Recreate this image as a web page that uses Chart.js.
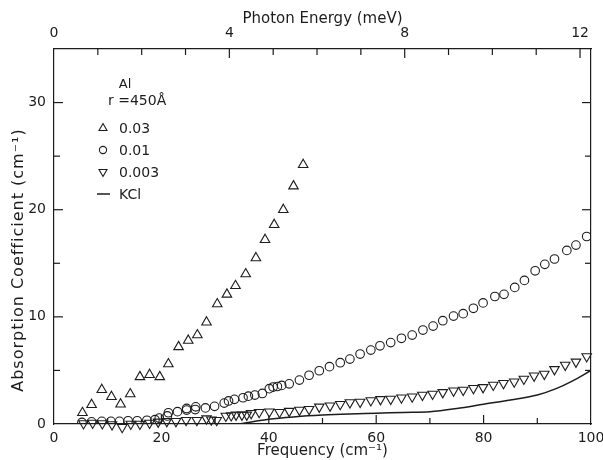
<!DOCTYPE html>
<html>
<head>
<meta charset="utf-8">
<script src="https://cdn.jsdelivr.net/npm/chart.js@4.4.1/dist/chart.umd.min.js"></script>
<style>
  html, body { margin: 0; background: #fff; }
</style>
</head>
<body>
<canvas id="chart" width="603" height="460"></canvas>
<script>
// Al particles, r = 450 Å, three filling fractions, plus the KCl host
const freq003a = [5.3, 7.0, 8.9, 10.7, 12.4, 14.2, 16.0, 17.8, 19.7, 21.3, 23.2, 25.0, 26.7, 28.4,
  30.4, 32.2, 33.8, 35.7, 37.6, 39.3, 41.0, 42.7, 44.6, 46.4];
const alpha003a = [1.05, 1.8, 3.2, 2.55, 1.85, 2.8, 4.4, 4.6, 4.4, 5.6, 7.2, 7.8, 8.3, 9.5,
  11.2, 12.1, 12.9, 14.0, 15.5, 17.2, 18.6, 20.0, 22.2, 24.2];

const freq001 = [5.2, 7.0, 8.9, 10.6, 12.2, 13.8, 15.5, 17.3, 18.8, 19.6, 21.1, 21.3, 23.0, 24.7,
  24.7, 26.3, 26.4, 28.2, 29.9, 31.7, 32.5, 33.6, 35.2, 36.2, 37.4, 38.8, 40.1, 40.8, 41.6, 42.4,
  43.8, 45.7, 47.5, 49.4, 51.3, 53.3, 55.1, 57.0, 59.0, 60.7, 62.7, 64.7, 66.7, 68.7, 70.6, 72.4,
  74.4, 76.2, 78.1, 79.9, 82.1, 83.8, 85.8, 87.6, 89.6, 91.4, 93.2, 95.5, 97.2, 99.2];
const alpha001 = [0.15, 0.2, 0.25, 0.25, 0.25, 0.3, 0.3, 0.35, 0.4, 0.55, 0.75, 1.05, 1.15, 1.3,
  1.45, 1.35, 1.6, 1.5, 1.65, 1.95, 2.15, 2.3, 2.45, 2.6, 2.7, 2.85, 3.3, 3.45, 3.5, 3.6,
  3.75, 4.1, 4.55, 4.97, 5.35, 5.72, 6.06, 6.53, 6.9, 7.3, 7.6, 8.0, 8.3, 8.77, 9.14, 9.64,
  10.07, 10.3, 10.8, 11.3, 11.9, 12.1, 12.75, 13.4, 14.3, 14.9, 15.4, 16.2, 16.7, 17.5];

const freq0003 = [5.5, 7.2, 9.0, 10.8, 12.7, 14.3, 16.0, 17.8, 19.4, 21.0, 22.7, 24.6, 26.6, 28.4,
  29.3, 30.3, 32.0, 33.0, 33.9, 35.0, 35.9, 36.7, 38.2, 40.1, 42.0, 43.8, 45.7, 47.5, 49.4, 51.4,
  53.3, 55.1, 57.0, 59.0, 60.8, 62.7, 64.7, 66.7, 68.6, 70.5, 72.4, 74.4, 76.2, 78.1, 79.9, 81.8,
  83.7, 85.7, 87.5, 89.4, 91.3, 93.2, 95.2, 97.2, 99.2];
const alpha0003 = [0.05, 0.1, 0.05, -0.05, -0.3, 0.0, 0.0, 0.1, 0.2, 0.25, 0.25, 0.35, 0.35, 0.5,
  0.4, 0.35, 0.75, 0.8, 0.85, 0.85, 0.85, 1.0, 1.1, 1.15, 1.1, 1.2, 1.3, 1.37, 1.6, 1.7,
  1.85, 2.0, 2.05, 2.2, 2.3, 2.33, 2.45, 2.55, 2.7, 2.8, 2.95, 3.1, 3.17, 3.33, 3.42, 3.64,
  3.8, 3.95, 4.2, 4.5, 4.66, 5.1, 5.5, 5.8, 6.3];

const freqKCl = [34.5, 37, 40, 45, 50, 55, 60, 65, 70, 75, 80, 85, 90, 93.5, 96.5, 100];
const alphaKCl = [0, 0.2, 0.45, 0.68, 0.83, 0.93, 1.0, 1.08, 1.15, 1.45, 1.85, 2.25, 2.7, 3.3, 4.0, 5.0];

const legendLabels = ["0.03", "0.01", "0.003", "KCl"];

const INK = "#1c1c1c";
const FONT = "'DejaVu Sans', sans-serif";
Chart.defaults.font.family = FONT;
Chart.defaults.color = INK;

const pts = (xs, ys) => xs.map((x, i) => ({ x, y: ys[i] }));

// ticks point inward on all four sides of the box
const innerTicks = {
  id: "innerTicks",
  afterDraw(chart) {
    const { ctx, chartArea: a, scales } = chart;
    ctx.save();
    ctx.strokeStyle = INK;
    ctx.lineWidth = 1.2;
    const sides = { x: "bottom", xTop: "top", y: "left", yRight: "right" };
    for (const id in sides) {
      const s = scales[id];
      s.ticks.forEach(t => {
        if (t.value <= s.min || t.value >= s.max) return;
        const p = s.getPixelForValue(t.value);
        const len = t.label !== "" ? 9 : 6;
        ctx.beginPath();
        if (sides[id] === "bottom") { ctx.moveTo(p, a.bottom); ctx.lineTo(p, a.bottom - len); }
        if (sides[id] === "top") { ctx.moveTo(p, a.top); ctx.lineTo(p, a.top + len); }
        if (sides[id] === "left") { ctx.moveTo(a.left, p); ctx.lineTo(a.left + len, p); }
        if (sides[id] === "right") { ctx.moveTo(a.right, p); ctx.lineTo(a.right - len, p); }
        ctx.stroke();
      });
    }
    ctx.restore();
  }
};

// y title and the in-plot key
const annotations = {
  id: "annotations",
  afterDraw(chart) {
    const { ctx } = chart;
    ctx.save();
    ctx.fillStyle = INK;
    ctx.strokeStyle = INK;
    ctx.textBaseline = "middle";

    ctx.save();
    ctx.translate(19, 260);
    ctx.rotate(-Math.PI / 2);
    ctx.textAlign = "center";
    ctx.font = "16px " + FONT;
    ctx.letterSpacing = "1px";
    ctx.fillText("Absorption Coefficient (cm\u207B\u00B9)", 0, 0);
    ctx.restore();

    ctx.font = "13px " + FONT;
    ctx.textAlign = "center";
    ctx.fillText("Al", 125, 85);
    ctx.textAlign = "left";
    ctx.font = "14px " + FONT;
    ctx.fillText("r =450\u00C5", 108, 101);

    const mx = 103, rows = [128, 150, 172, 194];
    ctx.lineWidth = 1.1;
    // up triangle
    ctx.beginPath();
    ctx.moveTo(mx, rows[0] - 4.5); ctx.lineTo(mx + 4, rows[0] + 2.5); ctx.lineTo(mx - 4, rows[0] + 2.5);
    ctx.closePath(); ctx.stroke();
    // circle
    ctx.beginPath(); ctx.arc(mx, rows[1], 3.6, 0, Math.PI * 2); ctx.stroke();
    // down triangle
    ctx.beginPath();
    ctx.moveTo(mx, rows[2] + 4.5); ctx.lineTo(mx + 4, rows[2] - 2.5); ctx.lineTo(mx - 4, rows[2] - 2.5);
    ctx.closePath(); ctx.stroke();
    // line
    ctx.lineWidth = 1.5;
    ctx.beginPath(); ctx.moveTo(97, rows[3]); ctx.lineTo(110, rows[3]); ctx.stroke();

    legendLabels.forEach((txt, i) => ctx.fillText(txt, 119, rows[i] + 1));
    ctx.restore();
  }
};

const marker = {
  showLine: false,
  borderColor: INK,
  backgroundColor: "rgba(0,0,0,0)",
  pointBorderColor: INK,
  pointBackgroundColor: "rgba(0,0,0,0)",
  pointBorderWidth: 1.1
};

const noGrid = { display: false, drawTicks: false };
const box = { display: true, color: INK, width: 1.2 };

new Chart(document.getElementById("chart"), {
  type: "scatter",
  data: {
    datasets: [
      { ...marker, label: legendLabels[0], data: pts(freq003a, alpha003a), pointStyle: "triangle", pointRadius: 5.5 },
      { ...marker, label: legendLabels[1], data: pts(freq001, alpha001), pointStyle: "circle", pointRadius: 4.3 },
      { ...marker, label: legendLabels[2], data: pts(freq0003, alpha0003), pointStyle: "triangle",
        pointRotation: 180, pointRadius: 5.5, clip: false },
      { label: legendLabels[3], data: pts(freqKCl, alphaKCl), showLine: true, pointRadius: 0,
        borderColor: INK, borderWidth: 1.5, cubicInterpolationMode: "monotone" }
    ]
  },
  options: {
    responsive: false,
    animation: false,
    events: [],
    plugins: { legend: { display: false }, tooltip: { enabled: false } },
    scales: {
      x: {
        type: "linear", position: "bottom", min: 0, max: 100,
        grid: noGrid, border: box,
        ticks: { stepSize: 10, autoSkip: false, maxRotation: 0, padding: 6, font: { size: 14 },
          callback: v => (v % 20 === 0 ? String(v) : "") },
        title: { display: true, text: "Frequency (cm\u207B\u00B9)", font: { size: 15 }, padding: 0 },
        afterFit(s) { s.height = 36; s.paddingLeft = 0; s.paddingRight = 0; }
      },
      xTop: {
        type: "linear", position: "top", axis: "x", min: 0, max: 12.25,
        grid: noGrid, border: box,
        ticks: { stepSize: 1, includeBounds: false, autoSkip: false, maxRotation: 0, padding: 7,
          font: { size: 14 }, callback: v => (v % 4 === 0 ? String(v) : "") },
        title: { display: true, text: "Photon Energy (meV)", font: { size: 15 }, padding: { top: 10, bottom: 0 } },
        afterFit(s) { s.height = 49; s.paddingLeft = 0; s.paddingRight = 0; }
      },
      y: {
        type: "linear", position: "left", min: 0, max: 35,
        grid: noGrid, border: box,
        ticks: { stepSize: 5, autoSkip: false, padding: 8, font: { size: 14 },
          callback: v => (v % 10 === 0 ? String(v) : "") },
        afterFit(s) { s.width = 54; s.paddingTop = 0; s.paddingBottom = 0; }
      },
      yRight: {
        type: "linear", position: "right", axis: "y", min: 0, max: 35,
        grid: noGrid, border: box,
        ticks: { stepSize: 5, display: false, callback: v => (v % 10 === 0 ? String(v) : "") },
        afterFit(s) { s.width = 12; s.paddingTop = 0; s.paddingBottom = 0; }
      }
    }
  },
  plugins: [innerTicks, annotations]
});
</script>
</body>
</html>
